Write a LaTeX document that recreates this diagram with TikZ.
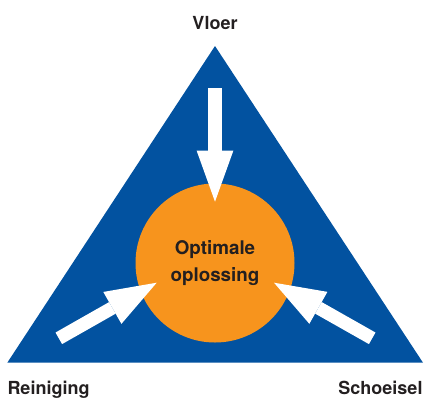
\documentclass[tikz,border=0pt]{standalone}
\usepackage{fontspec}
\setmainfont{TeX Gyre Heros}
\usetikzlibrary{arrows.meta}
\definecolor{vlakblauw}{HTML}{0252A0}
\definecolor{oranje}{HTML}{F7941D}
\definecolor{tekst}{HTML}{231F20}
\begin{document}
\begin{tikzpicture}[x=1pt,y=-1pt,font=\fontsize{18}{26.7}\selectfont\bfseries,
  lbl/.style={text=tekst,inner sep=0pt},
  pijl/.style={draw=white,line width=13.3pt,-{Triangle[length=51pt,width=36.7pt,line width=0pt]}}]
\useasboundingbox (0,0) rectangle (425,399);
% driehoek
\coordinate (top) at (215,46);
\coordinate (links) at (7.3,362.7);
\coordinate (rechts) at (423,362.7);
\fill [vlakblauw] (top) -- (links) -- (rechts) -- cycle;
\node [lbl,anchor=base] (vloer) at (215,29.3) {Vloer};
\node [lbl,anchor=base west] (reiniging) at (7.3,394) {Reiniging};
\node [lbl,anchor=base east] (schoeisel) at (422.7,394) {Schoeisel};
% midden
\node [circle,fill=oranje,minimum size=159pt,inner sep=0pt,text=tekst,align=center,
  font=\fontsize{18.8}{26.7}\selectfont\bfseries] (opl) at (215,263) {Optimale\\oplossing};
% pijlen
\foreach \naam/\van/\naar in {v/{215,88.3}/{215,201.7},r/{58.8,338.3}/{156.7,282.7},s/{372.2,338.3}/{274,282.7}} {
  \coordinate (\naam van) at (\van);
  \coordinate (\naam naar) at (\naar);
  \draw [pijl] (\naam van) -- (\naam naar);
}
\end{tikzpicture}
\end{document}
